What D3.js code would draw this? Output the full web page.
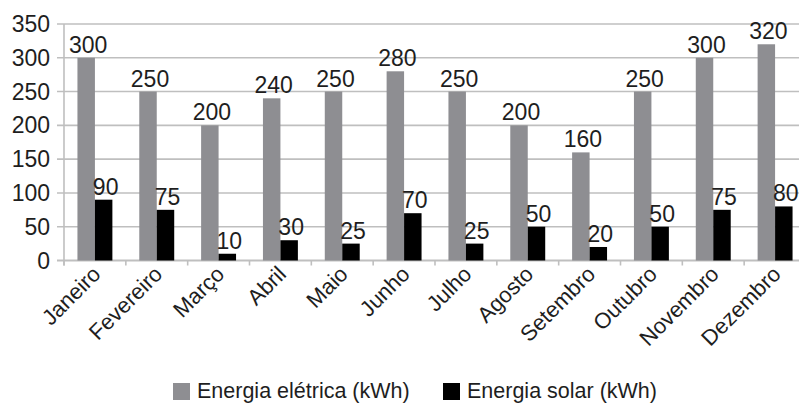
<!DOCTYPE html>
<html>
<head>
<meta charset="utf-8">
<script src="https://cdn.jsdelivr.net/npm/d3@7"></script>
<style>
  html, body { margin: 0; padding: 0; background: #fff; }
  svg { display: block; font-family: "Liberation Sans", Arial, sans-serif; }
</style>
</head>
<body>
<svg id="chart" width="799" height="403"></svg>
<script>
const months = ["Janeiro","Fevereiro","Março","Abril","Maio","Junho","Julho","Agosto","Setembro","Outubro","Novembro","Dezembro"];
const eletrica = [300,250,200,240,250,280,250,200,160,250,300,320];
const solar = [90,75,10,30,25,70,25,50,20,50,75,80];
const seriesNames = ["Energia elétrica (kWh)","Energia solar (kWh)"];
const seriesColors = ["#8e8e92","#000000"];
const yTicks = [0,50,100,150,200,250,300,350];

const svg = d3.select("#chart");
const W = 799;
const x = d3.scaleBand().domain(months).range([64, 806]).paddingInner(0).paddingOuter(0);
const x1 = d3.scaleBand().domain([0,1]).range([0, x.bandwidth()]).paddingInner(0).paddingOuter(0.77);
const y = d3.scaleLinear().domain([0,350]).range([260.5, 24]);
const gridColor = "#bfbfbf";
const textColor = "#1e1e1e";

// gridlines
svg.append("g").selectAll("line").data(yTicks.filter(d => d > 0)).join("line")
  .attr("x1", 57).attr("x2", W).attr("y1", d => y(d)).attr("y2", d => y(d))
  .attr("stroke", gridColor).attr("stroke-width", 1.6);

// y axis line
svg.append("line").attr("x1", 64).attr("x2", 64).attr("y1", y(350)).attr("y2", y(0) + 5)
  .attr("stroke", gridColor).attr("stroke-width", 1.6);
// x axis line
svg.append("line").attr("x1", 57).attr("x2", W).attr("y1", y(0)).attr("y2", y(0))
  .attr("stroke", gridColor).attr("stroke-width", 1.8);
// x tick marks at band boundaries
svg.append("g").selectAll("line").data(months).join("line")
  .attr("x1", d => x(d)).attr("x2", d => x(d))
  .attr("y1", y(0)).attr("y2", y(0) + 5)
  .attr("stroke", gridColor).attr("stroke-width", 1.6);

// y tick labels
svg.append("g").selectAll("text").data(yTicks).join("text")
  .attr("x", 50).attr("y", d => y(d)).attr("dy", "0.35em")
  .attr("text-anchor", "end").attr("font-size", 23).attr("fill", textColor)
  .text(d => d);

// bars
const data = months.map((m, i) => ({ m, vals: [eletrica[i], solar[i]] }));
const groups = svg.append("g").selectAll("g").data(data).join("g")
  .attr("transform", d => `translate(${x(d.m)},0)`);
groups.selectAll("rect").data(d => d.vals.map((v, k) => ({ v, k }))).join("rect")
  .attr("x", d => x1(d.k)).attr("width", x1.bandwidth())
  .attr("y", d => y(d.v)).attr("height", d => y(0) - y(d.v))
  .attr("fill", d => seriesColors[d.k]);
groups.selectAll("text").data(d => d.vals.map((v, k) => ({ v, k }))).join("text")
  .attr("x", d => x1(d.k) + x1.bandwidth() / 2 + 2)
  .attr("y", d => y(d.v) - 5)
  .attr("text-anchor", "middle").attr("font-size", 23).attr("fill", textColor)
  .text(d => d.v);

// x labels
svg.append("g").selectAll("text").data(months).join("text")
  .attr("transform", d => `translate(${x(d) + x.bandwidth() / 2 + 7},${y(0) + 15}) rotate(-45)`)
  .attr("text-anchor", "end").attr("font-size", 22).attr("fill", textColor)
  .text(d => d);

// legend
const legendX = [173, 443];
const lg = svg.append("g").selectAll("g").data(seriesNames).join("g")
  .attr("transform", (d, i) => `translate(${legendX[i]},383)`);
lg.append("rect").attr("width", 17).attr("height", 17).attr("fill", (d, i) => seriesColors[i]);
lg.append("text").attr("x", 24).attr("y", 15).attr("font-size", 21.5).attr("fill", textColor)
  .text(d => d);
</script>
</body>
</html>
